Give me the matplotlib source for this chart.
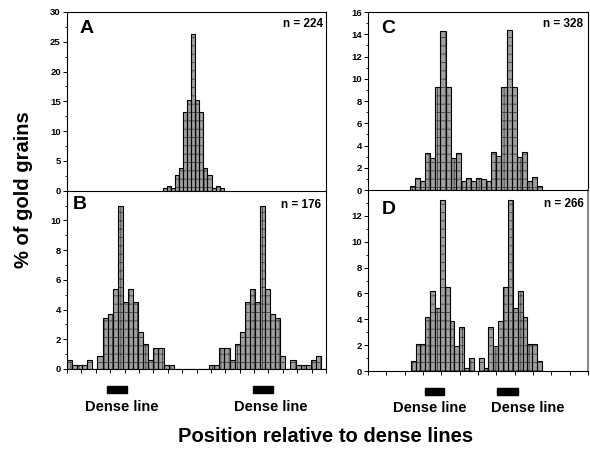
import numpy as np
import matplotlib
matplotlib.use("Agg")
import matplotlib.pyplot as plt
from matplotlib.patches import Rectangle

plt.rcParams['font.family'] = ['Liberation Sans', 'DejaVu Sans']
plt.rcParams['font.weight'] = 'bold'
plt.rcParams['hatch.linewidth'] = 0.6

# values (% of gold grains per bin)
a_vals = [0.4, 0.8, 0.4, 2.6, 3.8, 13.2, 15.3, 26.3, 15.3, 13.2, 3.8, 2.6, 0.4, 0.8, 0.4]
b_vals = [0.6, 0.3, 0.3, 0.3, 0.6, 0, 0.9, 3.4, 3.7, 5.4, 11.0, 4.5, 5.4, 4.5, 2.5,
          1.7, 0.6, 1.4, 1.4, 0.3, 0.3, 0, 0, 0, 0, 0, 0, 0, 0.3, 0.3, 1.4, 1.4,
          0.6, 1.7, 2.5, 4.5, 5.4, 4.5, 11.0, 5.4, 3.7, 3.4, 0.9, 0, 0.6, 0.3,
          0.3, 0.3, 0.6, 0.9, 0]
c_vals = [0.4, 1.1, 0.8, 3.3, 2.9, 9.3, 14.3, 9.3, 2.9, 3.3, 0.8, 1.1, 0.8, 1.1,
          1.0, 0.85, 3.4, 3.1, 9.3, 14.4, 9.3, 3.0, 3.4, 0.8, 1.15, 0.4]
d_vals = [0.8, 2.1, 2.1, 4.2, 6.2, 4.9, 13.2, 6.5, 3.9, 1.9, 3.4, 0.25, 1.0, 0,
          1.0, 0.25, 3.4, 1.9, 3.9, 6.5, 13.2, 4.9, 6.2, 4.2, 2.1, 2.1, 0.8]
n_labels = ['n = 224', 'n = 176', 'n = 328', 'n = 266']
panel_letters = ['A', 'B', 'C', 'D']

# bin layout in position units (one B-bin = 1)
a_start, a_width = 18.85, 0.8
b_start, b_width = 0.0, 1.0
c_start, c_width = 8.27, 1.0
d_start, d_width = 8.4, 0.957
left_span, right_span = 51.0, 43.3

# dense line marks (x extents) and label centres
dense_left = [(7.9, 11.75), (36.7, 40.6)]
dense_left_txt = [10.8, 40.2]
dense_right = [(11.2, 15.0), (25.45, 29.6)]
dense_right_txt = [12.2, 31.4]

fig = plt.figure(figsize=(5.9, 4.49), dpi=100)
axA = fig.add_axes([0.1136, 0.5753, 0.439, 0.398])
axB = fig.add_axes([0.1136, 0.1782, 0.439, 0.397])
axC = fig.add_axes([0.6237, 0.5768, 0.3729, 0.3964])
axD = fig.add_axes([0.6237, 0.1737, 0.3729, 0.403])


def draw_bars(ax, vals, start, width):
    x = start + np.arange(len(vals)) * width
    ax.bar(x, vals, width=width, align='edge', color='#a0a0a0',
           edgecolor='#404040', hatch='++', linewidth=0)
    ax.bar(x, vals, width=width, align='edge', fill=False,
           edgecolor='black', linewidth=0.8)


draw_bars(axA, a_vals, a_start, a_width)
draw_bars(axB, b_vals, b_start, b_width)
draw_bars(axC, c_vals, c_start, c_width)
draw_bars(axD, d_vals, d_start, d_width)

setup = [
    (axA, 30, np.arange(0, 31, 5), np.arange(2.5, 30, 5), left_span, None),
    (axB, 12, np.arange(0, 11, 2), np.arange(1, 12, 2), left_span, np.linspace(0, left_span, 19)),
    (axC, 16, np.arange(0, 17, 2), np.arange(1, 16, 2), right_span, None),
    (axD, 14, np.arange(0, 13, 2), np.arange(1, 14, 2), right_span, np.linspace(0, right_span, 13)),
]
for ax, top, major, minor, span, xt in setup:
    ax.set_ylim(0, top)
    ax.set_xlim(0, span)
    ax.set_yticks(major)
    ax.set_yticks(minor, minor=True)
    ax.tick_params(axis='y', which='major', length=3, width=0.7, labelsize=6.8, pad=1.5)
    ax.tick_params(axis='y', which='minor', length=1.8, width=0.6)
    if xt is None:
        ax.set_xticks([])
    else:
        ax.set_xticks(xt)
        ax.tick_params(axis='x', length=3, width=0.7, labelbottom=False)
    for s in ax.spines.values():
        s.set_linewidth(0.8)
    ax.patch.set_alpha(0)

for lbl in axA.get_yticklabels() + axB.get_yticklabels() + axC.get_yticklabels() + axD.get_yticklabels():
    lbl.set_fontweight('bold')

axA.spines['bottom'].set_visible(False)
axC.spines['bottom'].set_visible(False)
axD.spines['right'].set_color('#888888')
axD.spines['right'].set_linewidth(1.5)

# panel letters and n labels
letter_pos = [(0.05, 0.905), (0.023, 0.925), (0.062, 0.905), (0.062, 0.895)]
n_pos = [(0.987, 0.933), (0.98, 0.92), (0.979, 0.933), (0.982, 0.923)]
for ax, letter, lp, nl, npos in zip([axA, axB, axC, axD], panel_letters, letter_pos, n_labels, n_pos):
    ax.text(lp[0], lp[1], letter, transform=ax.transAxes, fontsize=14,
            fontweight='bold', ha='left', va='center')
    ax.text(npos[0], npos[1], nl, transform=ax.transAxes, fontsize=8.5,
            fontweight='bold', ha='right', va='center')

# dense line markers
for ax, marks, txts, y0, yt in [(axB, dense_left, dense_left_txt, -0.137, -0.213),
                                 (axD, dense_right, dense_right_txt, -0.133, -0.204)]:
    trans = ax.get_xaxis_transform()
    for (x0, x1), xt in zip(marks, txts):
        ax.add_patch(Rectangle((x0, y0), x1 - x0, 0.04, transform=trans,
                               color='black', clip_on=False))
        ax.text(xt, yt, 'Dense line', transform=trans, fontsize=10.5,
                fontweight='bold', ha='center', va='center')

fig.text(325.7 / 590, 1 - 436 / 449, 'Position relative to dense lines',
         fontsize=14.5, fontweight='bold', ha='center', va='center')
fig.text(24 / 590, 1 - 190 / 449, '% of gold grains', rotation=90,
         fontsize=14.5, fontweight='bold', ha='center', va='center')

fig.savefig('out.png', dpi=100)
